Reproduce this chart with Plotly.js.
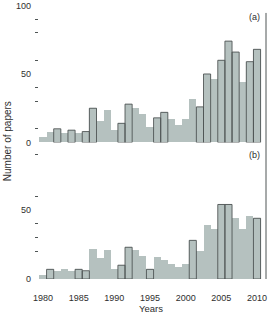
<!DOCTYPE html>
<html>
<head>
<meta charset="utf-8">
<script src="https://cdn.plot.ly/plotly-3.0.1.min.js"></script>
<style>html,body{margin:0;padding:0;background:#fff}#chart{width:268px;height:314px}</style>
</head>
<body>
<div id="chart"></div>
<script>
// ---- data ----
const years = [1980,1981,1982,1983,1984,1985,1986,1987,1988,1989,1990,1991,1992,1993,1994,1995,
               1996,1997,1998,1999,2000,2001,2002,2003,2004,2005,2006,2007,2008,2009,2010];
const papersA = [4,8,10,7,9,7,8,25,16,24,9,14,28,25,21,11,
                 18,22,17,13,17,32,26,50,46,60,74,66,44,59,68];
const papersB = [3,7,6,7,6,7,6,22,15,21,7,10,23,21,17,7,
                 16,14,11,9,11,28,20,39,36,54,54,44,36,46,44];
// bars drawn with a dark outline
const outlinedA = [1982,1984,1986,1987,1991,1992,1996,1997,2002,2003,2005,2006,2007,2009,2010];
const outlinedB = [1981,1985,1986,1991,1992,1995,2001,2005,2006,2010];
// tick labels and tick marks
const xLabelYears = [1980,1985,1990,1995,2000,2005,2010];
const topTickYears = [1980,1981,1982,1986,1987,1988,1991,1996,1998,1999,2000,2001,2002,2006,2007,2008];
const midTickYears = [1980,1981,1982,1986,1987,1988,1991,1993,1996,1998,1999,2000,2001,2002,2006,2007,2008];
const bottomMajorTicks = [1980,1990,1995,2000,2010];
const bottomMinorTicks = [1981,1982,1986,1988,1991,1996,2001,2002,2006,2007,2008];
const yLabelsA = [0,50,100];
const yLabelsB = [0,50];
const yTicksA = [10,30,40,60,80,90];
const yTicksB = [20,30,40,60,90];

const FILL = '#b5c1bf', DARK = '#4f5555', TXT = '#2e2e2e';
const XR = [1979.44, 2011.26];

function pick(vals, keep){
  const x = [], y = [];
  years.forEach((yr,i)=>{ if(keep.includes(yr)){ x.push(yr); y.push(vals[i]); } });
  return {x, y};
}
const oA = pick(papersA, outlinedA), oB = pick(papersB, outlinedB);

const traces = [
  {type:'bar', x:years, y:papersA, xaxis:'x', yaxis:'y', width:1,
   marker:{color:FILL, line:{width:0}}, hoverinfo:'x+y'},
  {type:'bar', x:oA.x, y:oA.y, xaxis:'x', yaxis:'y', width:1,
   marker:{color:'rgba(0,0,0,0)', line:{color:DARK, width:0.9}}, hoverinfo:'skip'},
  {type:'bar', x:years, y:papersB, xaxis:'x', yaxis:'y2', width:1,
   marker:{color:FILL, line:{width:0}}, hoverinfo:'x+y'},
  {type:'bar', x:oB.x, y:oB.y, xaxis:'x', yaxis:'y2', width:1,
   marker:{color:'rgba(0,0,0,0)', line:{color:DARK, width:0.9}}, hoverinfo:'skip'}
];

const base = {showgrid:false, zeroline:false, showline:false, fixedrange:true,
              tickfont:{family:'Liberation Sans, Arial, sans-serif', size:9, color:TXT},
              tickcolor:DARK, tickwidth:1};

const layout = {
  width:268, height:314,
  margin:{l:39, r:2, t:5, b:35},
  paper_bgcolor:'#fff', plot_bgcolor:'rgba(0,0,0,0)',
  showlegend:false, barmode:'overlay', bargap:0,
  font:{family:'Liberation Sans, Arial, sans-serif', size:9, color:TXT},
  xaxis: Object.assign({}, base, {anchor:'y2', range:XR, tickmode:'array', tickvals:xLabelYears,
          ticks:'', ticklabelstandoff:12}),
  xaxis2: Object.assign({}, base, {anchor:'y2', overlaying:'x', range:XR, tickmode:'array',
          tickvals:bottomMajorTicks, ticks:'outside', ticklen:6, showticklabels:false,
          minor:{tickmode:'array', tickvals:bottomMinorTicks, ticks:'outside', ticklen:4, tickcolor:DARK}}),
  xaxis3: Object.assign({}, base, {anchor:'y', overlaying:'x', range:XR, tickmode:'array',
          tickvals:midTickYears, ticks:'outside', ticklen:4, showticklabels:false}),
  xaxis4: Object.assign({}, base, {anchor:'y', overlaying:'x', side:'top', range:XR, tickmode:'array',
          tickvals:topTickYears, ticks:'inside', ticklen:3, showticklabels:false}),
  yaxis: Object.assign({}, base, {anchor:'x', domain:[0.4982, 0.9982], range:[0,100], tickmode:'array',
          tickvals:yLabelsA, ticks:'', ticklabelstandoff:7,
          minor:{tickmode:'array', tickvals:yTicksA, ticks:'outside', ticklen:3, tickcolor:DARK}}),
  yaxis2: Object.assign({}, base, {anchor:'x', domain:[0, 0.5036], range:[0,100], tickmode:'array',
          tickvals:yLabelsB, ticks:'', ticklabelstandoff:7,
          minor:{tickmode:'array', tickvals:yTicksB, ticks:'outside', ticklen:3, tickcolor:DARK}}),
  yaxis3: Object.assign({}, base, {anchor:'x', overlaying:'y', side:'right', range:[0,100], tickmode:'array',
          tickvals:yTicksA, ticks:'inside', ticklen:3, showticklabels:false}),
  yaxis4: Object.assign({}, base, {anchor:'x', overlaying:'y2', side:'right', range:[0,100], tickmode:'array',
          tickvals:yTicksB, ticks:'inside', ticklen:3, showticklabels:false}),
  shapes:[
    {type:'line', xref:'paper', yref:'paper', x0:1, x1:1, y0:0, y1:0.971,
     line:{color:DARK, width:1}}
  ],
  annotations:[
    {text:'(a)', xref:'paper', yref:'y', x:1, y:91.5, xanchor:'right', yanchor:'middle', xshift:-4,
     showarrow:false, font:{size:9, color:TXT}},
    {text:'(b)', xref:'paper', yref:'y2', x:1, y:90, xanchor:'right', yanchor:'middle', xshift:-4,
     showarrow:false, font:{size:9, color:TXT}},
    {text:'Years', xref:'paper', yref:'paper', x:0.493, y:-0.106, xanchor:'center', yanchor:'middle',
     showarrow:false, font:{size:9.5, color:TXT}},
    {text:'Number of papers', xref:'paper', yref:'paper', x:-0.141, y:0.503, xanchor:'center', yanchor:'middle',
     textangle:-90, showarrow:false, font:{size:10, color:TXT}}
  ]
};

Plotly.newPlot('chart', traces, layout, {displayModeBar:false, staticPlot:true});
</script>
</body>
</html>
